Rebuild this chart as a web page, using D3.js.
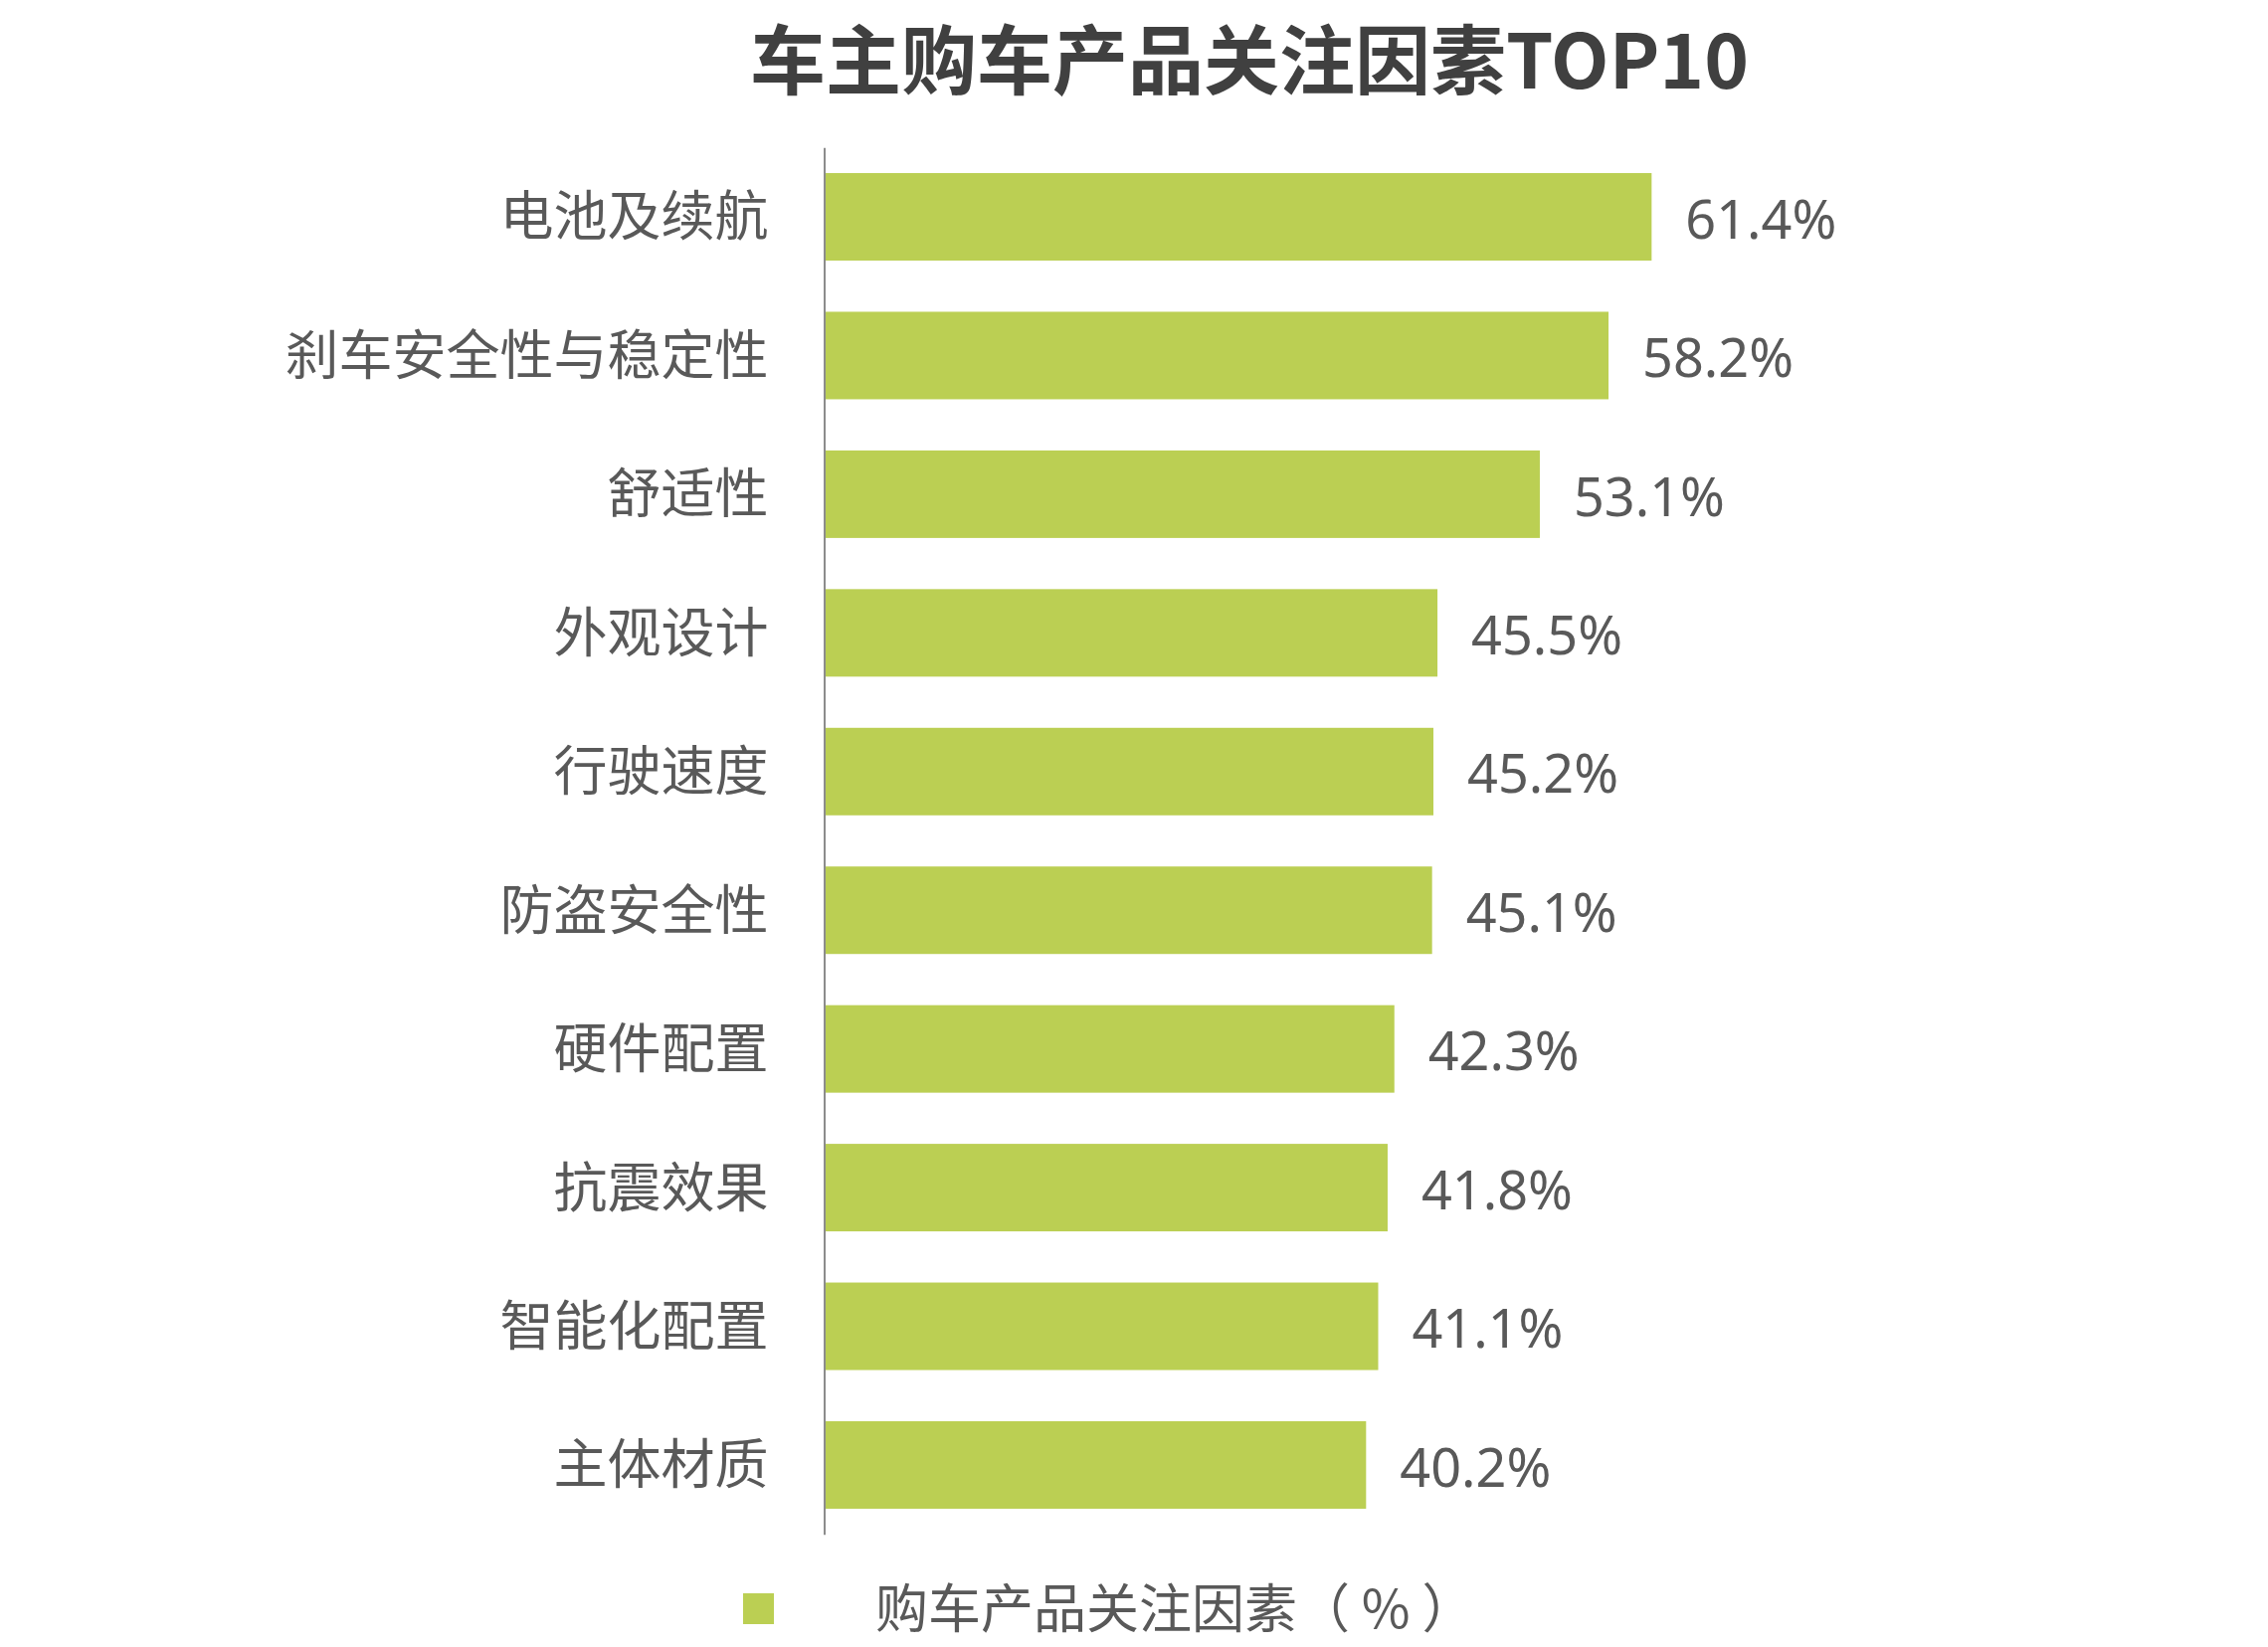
<!DOCTYPE html>
<html>
<head>
<meta charset="utf-8">
<script src="https://cdn.jsdelivr.net/npm/d3@7"></script>
<style>
  html, body { margin: 0; padding: 0; background: #ffffff; }
  svg { display: block; }
</style>
</head>
<body>
<script>
// ---- data ----
const categories = ["电池及续航", "刹车安全性与稳定性", "舒适性", "外观设计", "行驶速度",
                    "防盗安全性", "硬件配置", "抗震效果", "智能化配置", "主体材质"];
const values = [61.4, 58.2, 53.1, 45.5, 45.2, 45.1, 42.3, 41.8, 41.1, 40.2];
const titleText = "车主购车产品关注因素TOP10";
const seriesName = "购车产品关注因素（ % ）";

// ---- layout ----
const W = 2280, H = 1656;
const barColor = "#bbcf53";
const textColor = "#595959";
const cjk = "'Noto Sans CJK SC', 'Noto Sans', sans-serif";
const latin = "'Noto Sans', 'Noto Sans CJK SC', sans-serif";

const svg = d3.select("body").append("svg")
  .attr("width", W).attr("height", H);

svg.append("rect").attr("width", W).attr("height", H).attr("fill", "#fff");

const x = d3.scaleLinear().domain([0, 70]).range([829, 829 + 70 * 13.54]);
const y = d3.scaleBand().domain(categories).range([148.3, 1542.7])
  .paddingInner(0.369).paddingOuter(0.1845);

// title
svg.append("text")
  .attr("x", 1256).attr("y", 89)
  .attr("text-anchor", "middle")
  .attr("font-family", cjk)
  .attr("font-weight", 700)
  .attr("font-size", 76)
  .attr("fill", "#404040")
  .text(titleText);

// bars
const data = categories.map((c, i) => ({ c, v: values[i] }));
svg.append("g").selectAll("rect").data(data).join("rect")
  .attr("x", x(0))
  .attr("y", d => y(d.c))
  .attr("width", d => x(d.v) - x(0))
  .attr("height", y.bandwidth())
  .attr("fill", barColor);

// value labels
svg.append("g").selectAll("text").data(data).join("text")
  .attr("x", d => x(d.v) + 34)
  .attr("y", d => y(d.c) + y.bandwidth() / 2)
  .attr("dy", "0.4em")
  .attr("font-family", latin)
  .attr("font-size", 54)
  .attr("fill", textColor)
  .text(d => d.v.toFixed(1) + "%");

// axis
const axis = svg.append("g")
  .attr("transform", "translate(828.5,0)")
  .call(d3.axisLeft(y).tickSize(0).tickSizeOuter(0).tickPadding(56));
axis.select(".domain").attr("stroke", "#8c8c8c").attr("stroke-width", 2);
axis.selectAll(".tick text")
  .attr("font-family", cjk)
  .attr("font-size", 54)
  .attr("fill", textColor)
  .attr("dy", "0.36em");

// legend
svg.append("rect")
  .attr("x", 747).attr("y", 1602)
  .attr("width", 31).attr("height", 31)
  .attr("fill", barColor);
svg.append("text")
  .attr("x", 880).attr("y", 1637)
  .attr("font-family", cjk)
  .attr("font-size", 53)
  .attr("fill", textColor)
  .text(seriesName);
</script>
</body>
</html>
